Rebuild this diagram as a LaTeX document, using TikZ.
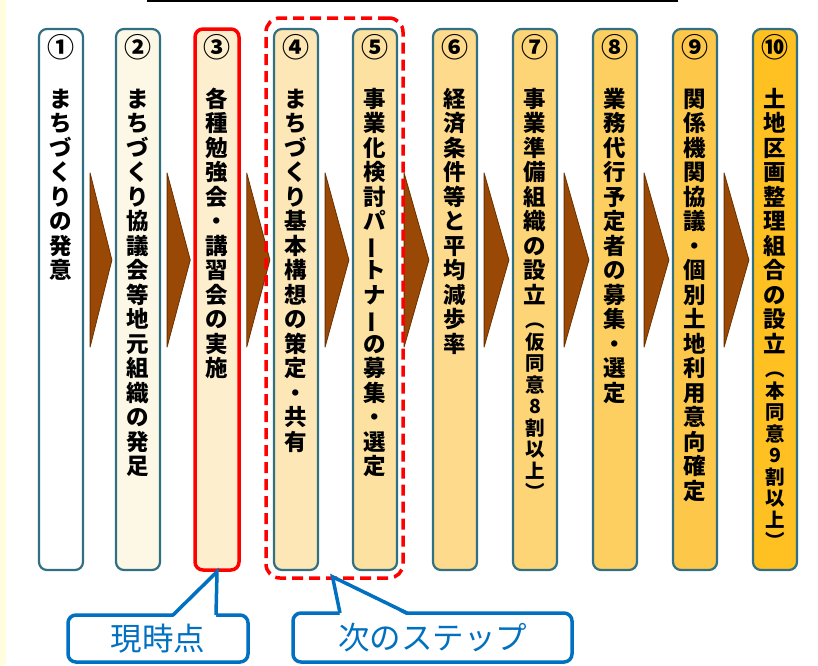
\documentclass[tikz,border=0pt]{standalone}
\usepackage{fontspec}
\usepackage{graphicx}
\usetikzlibrary{calc}
\newfontfamily\jp{Noto Sans CJK JP}
\definecolor{tealb}{RGB}{49,112,130}
\definecolor{arrowc}{RGB}{153,72,6}
\definecolor{arrowd}{RGB}{105,48,0}
\definecolor{calloutblue}{RGB}{0,112,192}
\definecolor{stripc}{RGB}{255,253,222}
\definecolor{f1}{RGB}{255,255,255}
\definecolor{f2}{RGB}{253,247,230}
\definecolor{f3}{RGB}{253,239,206}
\definecolor{f4}{RGB}{253,231,182}
\definecolor{f5}{RGB}{253,225,160}
\definecolor{f6}{RGB}{253,218,140}
\definecolor{f7}{RGB}{254,213,118}
\definecolor{f8}{RGB}{253,206,96}
\definecolor{f9}{RGB}{253,200,74}
\definecolor{f10}{RGB}{255,192,34}
% vertical text stacking
\newdimen\vtw \vtw=30pt
\let\vtend\relax
\def\vtendx{\vtend}
\def\vtl#1{\def\vttmp{#1}\ifx\vttmp\vtendx\else\hbox to\vtw{\hss#1\hss}\expandafter\vtl\fi}
\newcommand\vt[1]{\vtl#1\vtend}
\newcommand\chouon{\rotatebox[origin=c]{90}{ー}}
\newcommand\vtxt[1]{\vtop{\jp\bfseries\fontsize{22.5}{24.5}\selectfont\lineskiplimit=-100pt\lineskip=0pt\vt{#1}}}
\newcommand\vtxtp[2]{\vtop{\jp\bfseries\fontsize{22.5}{24.5}\selectfont\lineskiplimit=-100pt\lineskip=0pt\vt{#1}\vskip3pt\fontsize{19.5}{21.5}\selectfont\vt{#2}}}
\tikzset{
  stepbox/.style={draw=tealb, line width=2.2, rounded corners=8, minimum width=44, minimum height=541, inner sep=0},
  curbox/.style={stepbox, draw=red, line width=3.5},
  numlabel/.style={inner sep=0, font=\jp\bfseries\fontsize{27}{27}\selectfont},
  vlabel/.style={inner sep=0, anchor=base},
  arrowshape/.style={fill=arrowc, draw=arrowd, line width=0.8, line join=round},
  dashbox/.style={draw=red, line width=3.5, dash pattern=on 11 off 6, rounded corners=14, minimum width=137, minimum height=560, inner sep=0},
  callout/.style={draw=calloutblue, fill=white, line width=3.5, rounded corners=8, inner sep=0, text=calloutblue, font=\jp\fontsize{31.5}{31.5}\selectfont},
}
\begin{document}
\begin{tikzpicture}[x=1pt, y=-1pt]
\useasboundingbox (0,0) rectangle (818,665);
\fill[white] (0,0) rectangle (818,665);
\fill[stripc] (0,0) rectangle (6,665);
\draw[line width=2] (147,1) -- (678,1);

% boxes
\node[stepbox, fill=f1] (b1) at (61,299.5) {};
\node[stepbox, fill=f2] (b2) at (138,299.5) {};
\node[curbox, fill=f3] (b3) at (217,299.5) {};
\node[stepbox, fill=f4] (b4) at (296,299.5) {};
\node[stepbox, fill=f5] (b5) at (375,299.5) {};
\node[stepbox, fill=f6] (b6) at (455,299.5) {};
\node[stepbox, fill=f7] (b7) at (535,299.5) {};
\node[stepbox, fill=f8] (b8) at (615,299.5) {};
\node[stepbox, fill=f9] (b9) at (695,299.5) {};
\node[stepbox, fill=f10] (b10) at (775,299.5) {};

% arrows
\foreach \i [evaluate=\i as \j using int(\i+1)] in {1,...,9} {
  \filldraw[arrowshape] ($(b\i.east)+(6,-126.5)$) -- ($(b\j.west)+(-3,-39.5)$) -- ($(b\i.east)+(6,47.5)$) -- cycle;
}

% dashed group around 4 and 5
\node[dashbox] (grp) at (334.5,298) {};

% numbers
\node[numlabel] (n1) at (61,47) {①};
\node[numlabel] (n2) at (138,47) {②};
\node[numlabel] (n3) at (217,47) {③};
\node[numlabel] (n4) at (296,47) {④};
\node[numlabel] (n5) at (375,47) {⑤};
\node[numlabel] (n6) at (455,47) {⑥};
\node[numlabel] (n7) at (535,47) {⑦};
\node[numlabel] (n8) at (615,47) {⑧};
\node[numlabel] (n9) at (695,47) {⑨};
\node[numlabel] (n10) at (775,47) {⑩};

% vertical texts
\node[vlabel] (t1) at (61,107) {\vtxt{まちづくりの発意}};
\node[vlabel] (t2) at (138,107) {\vtxt{まちづくり協議会等地元組織の発足}};
\node[vlabel] (t3) at (217,107) {\vtxt{各種勉強会・講習会の実施}};
\node[vlabel] (t4) at (296,107) {\vtxt{まちづくり基本構想の策定・共有}};
\node[vlabel] (t5) at (375,107) {\vtxt{事業化検討パ{\chouon}トナ{\chouon}の募集・選定}};
\node[vlabel] (t6) at (455,107) {\vtxt{経済条件等と平均減歩率}};
\node[vlabel] (t7) at (535,107) {\vtxtp{事業準備組織の設立}{︵仮同意8割以上︶}};
\node[vlabel] (t8) at (615,107) {\vtxt{業務代行予定者の募集・選定}};
\node[vlabel] (t9) at (695,107) {\vtxt{関係機関協議・個別土地利用意向確定}};
\node[vlabel] (t10) at (775,107) {\vtxtp{土地区画整理組合の設立}{︵本同意9割以上︶}};

% callouts
\node[callout, minimum width=180, minimum height=47] (c1) at (158,638.5) {現時点};
\fill[white] (173,617.5) -- (b3.south) -- (216,617.5) -- cycle;
\draw[calloutblue, line width=3.5, line join=miter] (173,615) -- (b3.south) -- (216,615);

\node[callout, minimum width=279, minimum height=49] (c2) at (432.5,637.5) {次のステップ};
\coordinate (g2) at ($(grp.south)+(-2,-3)$);
\fill[white] (340,615.5) -- (g2) -- (407,615.5) -- cycle;
\draw[calloutblue, line width=3.5, line join=miter] (340,613) -- (g2) -- (407,613);
\end{tikzpicture}
\end{document}
